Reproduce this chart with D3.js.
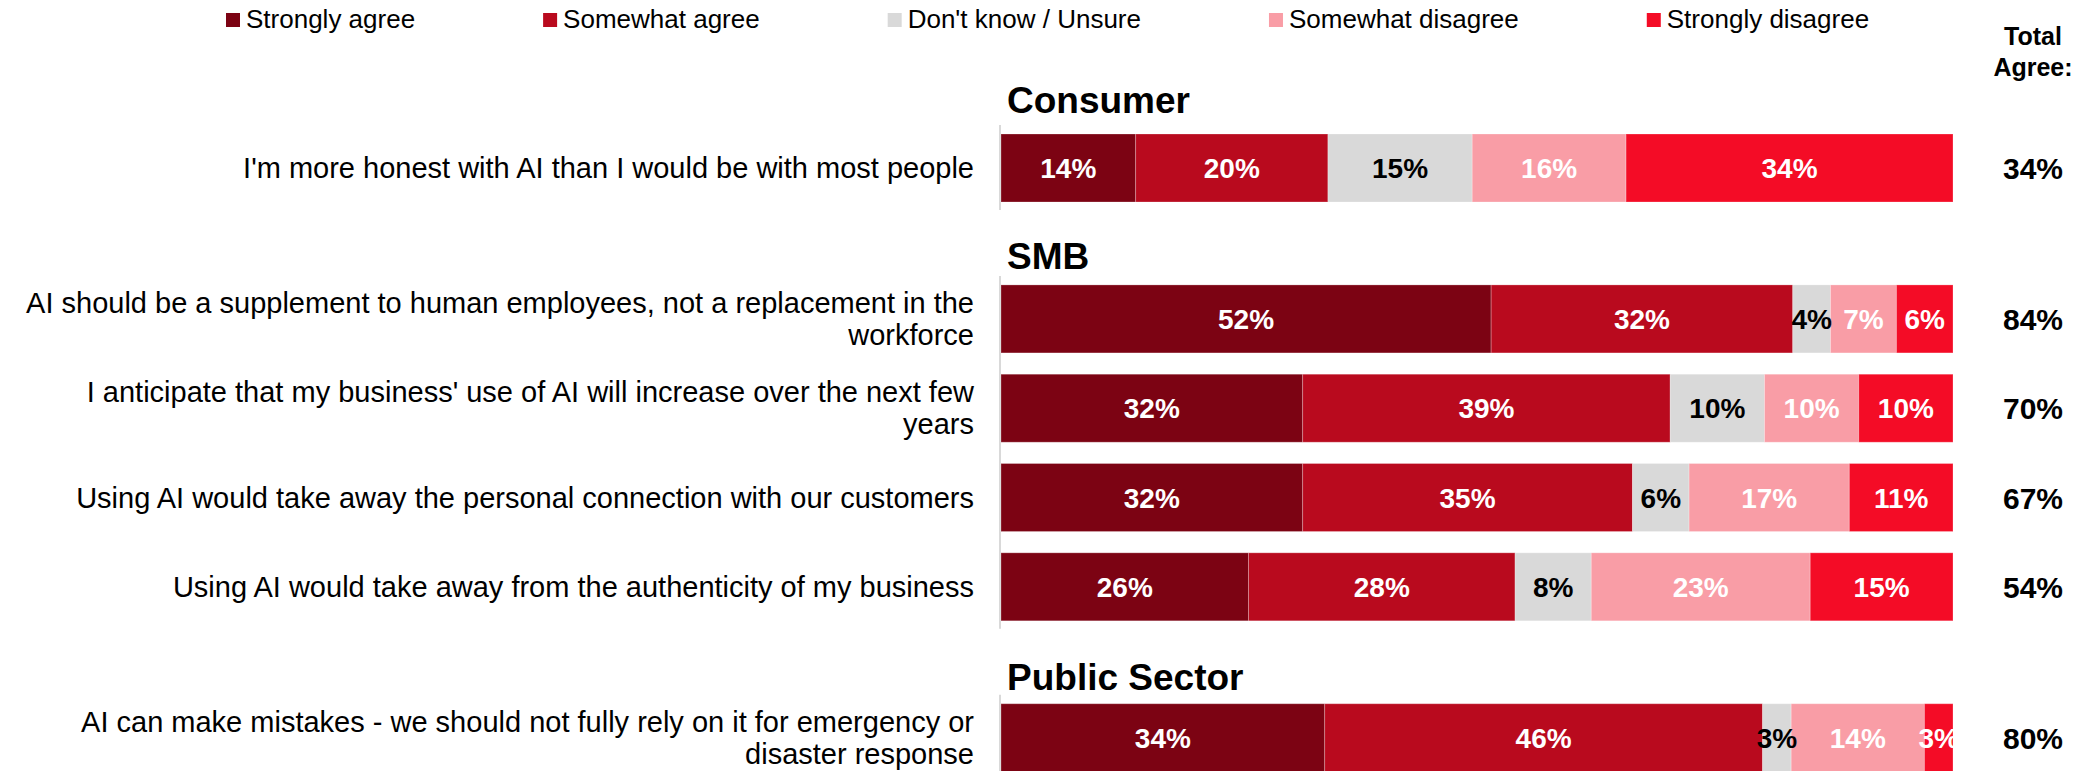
<!DOCTYPE html>
<html>
<head>
<meta charset="utf-8">
<script src="https://cdn.jsdelivr.net/npm/d3@7"></script>
<style>
  body { margin: 0; background: #ffffff; }
  svg { display: block; font-family: "Liberation Sans", Arial, Helvetica, sans-serif; }
</style>
</head>
<body>
<svg id="chart" width="2093" height="771"></svg>
<script>
// Response scale, in stacking order
const responses = ["Strongly agree", "Somewhat agree", "Don't know / Unsure", "Somewhat disagree", "Strongly disagree"];
const responseColors = ["#7C0313", "#B90A1E", "#D9D9D9", "#F99DA6", "#F40C26"];
const responseLabelColors = ["#ffffff", "#ffffff", "#000000", "#ffffff", "#ffffff"];

// Audience groups and the statement rows within them
const groups = ["Consumer", "SMB", "Public Sector"];
const statements = [
  "I'm more honest with AI than I would be with most people",
  "AI should be a supplement to human employees, not a replacement in the\nworkforce",
  "I anticipate that my business' use of AI will increase over the next few\nyears",
  "Using AI would take away the personal connection with our customers",
  "Using AI would take away from the authenticity of my business",
  "AI can make mistakes - we should not fully rely on it for emergency or\ndisaster response"
];
const statementGroup = [0, 1, 1, 1, 1, 2];

// Percent of respondents per answer
const stronglyAgree    = [14, 52, 32, 32, 26, 34];
const somewhatAgree    = [20, 32, 39, 35, 28, 46];
const dontKnow         = [15, 4, 10, 6, 8, 3];
const somewhatDisagree = [16, 7, 10, 17, 23, 14];
const stronglyDisagree = [34, 6, 10, 11, 15, 3];
const totalAgree       = [34, 84, 70, 67, 54, 80];

const series = [stronglyAgree, somewhatAgree, dontKnow, somewhatDisagree, stronglyDisagree];
const rows = statements.map((s, i) => {
  const r = { index: i, statement: s, group: statementGroup[i] };
  responses.forEach((k, j) => { r[k] = series[j][i]; });
  return r;
});

const svg = d3.select("#chart");

// 100% stacked layout
const stacked = d3.stack().keys(responses).offset(d3.stackOffsetExpand)(rows);

const x = d3.scaleLinear().domain([0, 1]).range([1001, 1953]);

// Vertical layout: one slot per statement, plus extra room for each group heading
const headingSlots = 0.69;
const rowPitch = d3.scaleLinear().domain([0, 1]).range([134, 134 + 89.3]);
const barHeight = 68;
const barTop = i => rowPitch(i + statementGroup[i] * headingSlots);
const barMid = i => barTop(i) + barHeight / 2;

// Group axis lines
const axisColor = "#D9D9D9";
groups.forEach((g, gi) => {
  const idx = rows.filter(r => r.group === gi).map(r => r.index);
  const first = d3.min(idx), last = d3.max(idx);
  svg.append("line")
    .attr("x1", 1000).attr("x2", 1000)
    .attr("y1", barTop(first) - 9)
    .attr("y2", barTop(last) + barHeight + 8)
    .attr("stroke", axisColor).attr("stroke-width", 2);
});

// Bars
const layers = svg.append("g").selectAll("g")
  .data(stacked)
  .join("g")
  .attr("fill", (d, i) => responseColors[i]);

layers.selectAll("rect")
  .data(d => d)
  .join("rect")
  .attr("x", d => x(d[0]))
  .attr("y", d => barTop(d.data.index))
  .attr("width", d => x(d[1]) - x(d[0]))
  .attr("height", barHeight)
  .attr("stroke", "#ffffff")
  .attr("stroke-opacity", 0.25)
  .attr("stroke-width", 1);

// Segment value labels, drawn above every bar
const labelLayer = svg.append("g")
  .attr("font-weight", "bold")
  .attr("font-size", 28)
  .attr("text-anchor", "middle");

stacked.forEach((layer, li) => {
  labelLayer.selectAll(null)
    .data(layer)
    .join("text")
    .attr("x", d => (x(d[0]) + x(d[1])) / 2)
    .attr("y", d => barMid(d.data.index) + 10)
    .attr("fill", responseLabelColors[li])
    .text(d => d.data[responses[li]] + "%");
});

// Group headings
const headingGap = [21, 16, 14];
groups.forEach((g, gi) => {
  const first = d3.min(rows.filter(r => r.group === gi), r => r.index);
  svg.append("text")
    .attr("x", 1007)
    .attr("y", barTop(first) - headingGap[gi])
    .attr("font-size", 37)
    .attr("font-weight", "bold")
    .attr("fill", "#000")
    .text(g);
});

// Statement labels (right-aligned, left of the bars)
const catLabels = svg.append("g")
  .attr("font-size", 29)
  .attr("fill", "#000")
  .attr("text-anchor", "end");

rows.forEach(r => {
  const lines = r.statement.split("\n");
  const t = catLabels.append("text");
  lines.forEach((ln, li) => {
    t.append("tspan")
      .attr("x", 974)
      .attr("y", barMid(r.index) + 10 + (li - (lines.length - 1) / 2) * 32)
      .text(ln);
  });
});

// Total agree column
const totalX = 2033;
svg.append("text")
  .attr("x", totalX).attr("y", 45)
  .attr("text-anchor", "middle")
  .attr("font-weight", "bold").attr("font-size", 25)
  .text("Total");
svg.append("text")
  .attr("x", totalX).attr("y", 76)
  .attr("text-anchor", "middle")
  .attr("font-weight", "bold").attr("font-size", 25)
  .text("Agree:");

svg.append("g")
  .attr("font-weight", "bold").attr("font-size", 30)
  .attr("text-anchor", "middle")
  .selectAll("text")
  .data(rows)
  .join("text")
  .attr("x", totalX)
  .attr("y", d => barMid(d.index) + 11)
  .text(d => totalAgree[d.index] + "%");

// Legend
const legend = svg.append("g").attr("font-size", 26);
let lx = 226;
responses.forEach((name, i) => {
  legend.append("rect")
    .attr("x", lx).attr("y", 13)
    .attr("width", 14).attr("height", 14)
    .attr("fill", responseColors[i]);
  const t = legend.append("text")
    .attr("x", lx + 20).attr("y", 28)
    .attr("fill", "#000")
    .text(name);
  lx += 20 + t.node().getComputedTextLength() + 128;
});
</script>
</body>
</html>
